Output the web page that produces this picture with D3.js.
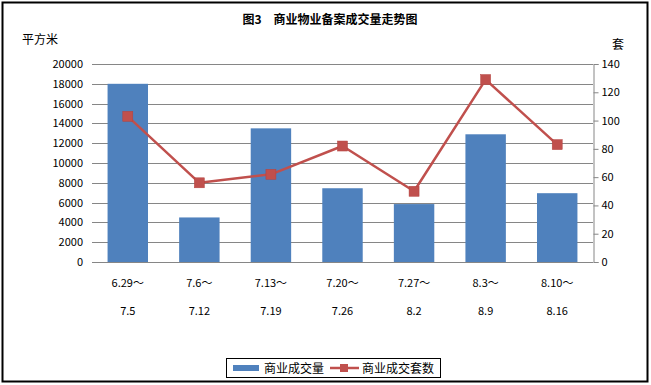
<!DOCTYPE html>
<html>
<head>
<meta charset="utf-8">
<script src="https://cdn.jsdelivr.net/npm/d3@7/dist/d3.min.js"></script>
<style>
  body { margin: 0; background: #fff; }
  svg text { font-family: "Noto Sans CJK SC", "DejaVu Sans", sans-serif; }
</style>
</head>
<body>
<svg id="chart" width="651" height="385"></svg>
<script>
// data
const periodsTop = ["6.29～", "7.6～", "7.13～", "7.20～", "7.27～", "8.3～", "8.10～"];
const periodsBottom = ["7.5", "7.12", "7.19", "7.26", "8.2", "8.9", "8.16"];
const areaValues = [18000, 4500, 13500, 7450, 5850, 12900, 6950];
const unitValues = [103, 56, 62, 82, 50, 129, 83];
const leftTicks = [0, 2000, 4000, 6000, 8000, 10000, 12000, 14000, 16000, 18000, 20000];
const rightTicks = [0, 20, 40, 60, 80, 100, 120, 140];

const BAR_COLOR = "#4F81BD";
const LINE_COLOR = "#C0504D";
const GRID_COLOR = "#868686";

const svg = d3.select("#chart");
const plot = { left: 92, right: 593, top: 64, bottom: 262 };

// outer frame
svg.append("rect")
  .attr("x", 2.5).attr("y", 2.5)
  .attr("width", 645).attr("height", 379)
  .attr("fill", "#fff")
  .attr("stroke", "#000")
  .attr("stroke-width", 2);

svg.append("text")
  .attr("x", 330).attr("y", 24)
  .attr("text-anchor", "middle")
  .attr("font-size", 12)
  .attr("font-weight", "bold")
  .text("图3　商业物业备案成交量走势图");

svg.append("text")
  .attr("x", 22).attr("y", 44)
  .attr("font-size", 12)
  .text("平方米");

svg.append("text")
  .attr("x", 612).attr("y", 49)
  .attr("font-size", 12)
  .text("套");

const x = d3.scaleBand()
  .domain(d3.range(periodsTop.length))
  .range([plot.left, plot.right])
  .paddingInner(0.435)
  .paddingOuter(0.2175);

const yLeft = d3.scaleLinear().domain([0, 20000]).range([plot.bottom, plot.top]);
const yRight = d3.scaleLinear().domain([0, 140]).range([plot.bottom, plot.top]);

// gridlines + left ticks
svg.append("g")
  .selectAll("line").data(leftTicks).enter().append("line")
  .attr("x1", plot.left).attr("x2", plot.right)
  .attr("y1", d => Math.round(yLeft(d)) + 0.5)
  .attr("y2", d => Math.round(yLeft(d)) + 0.5)
  .attr("stroke", GRID_COLOR)
  .attr("stroke-width", 1);

svg.append("g")
  .selectAll("text").data(leftTicks).enter().append("text")
  .attr("x", 83)
  .attr("y", d => yLeft(d) + 4)
  .attr("text-anchor", "end")
  .attr("font-size", 11)
  .text(d => d);

// bars
svg.append("g")
  .selectAll("rect").data(areaValues).enter().append("rect")
  .attr("x", (d, i) => x(i))
  .attr("y", d => yLeft(d))
  .attr("width", x.bandwidth())
  .attr("height", d => plot.bottom - yLeft(d))
  .attr("fill", BAR_COLOR);

// right axis
const rightAxis = svg.append("g")
  .attr("transform", `translate(${plot.right + 0.5},0)`)
  .call(d3.axisRight(yRight).tickValues(rightTicks).tickSize(5).tickPadding(3));
rightAxis.select(".domain").attr("stroke", GRID_COLOR);
rightAxis.selectAll(".tick line").attr("stroke", GRID_COLOR);
rightAxis.selectAll(".tick text")
  .attr("font-size", 11)
  .attr("fill", "#000")
  .attr("font-family", "\"Noto Sans CJK SC\", sans-serif");

// category labels
const cats = svg.append("g");
cats.selectAll("text.top").data(periodsTop).enter().append("text")
  .attr("class", "top")
  .attr("x", (d, i) => x(i) + x.bandwidth() / 2)
  .attr("y", 287)
  .attr("text-anchor", "middle")
  .attr("font-size", 11)
  .text(d => d);
cats.selectAll("text.bottom").data(periodsBottom).enter().append("text")
  .attr("class", "bottom")
  .attr("x", (d, i) => x(i) + x.bandwidth() / 2)
  .attr("y", 315)
  .attr("text-anchor", "middle")
  .attr("font-size", 11)
  .text(d => d);

// line series
const line = d3.line()
  .x((d, i) => x(i) + x.bandwidth() / 2)
  .y(d => yRight(d));

svg.append("path")
  .datum(unitValues)
  .attr("fill", "none")
  .attr("stroke", LINE_COLOR)
  .attr("stroke-width", 2.5)
  .attr("stroke-linejoin", "round")
  .attr("d", line);

svg.append("g")
  .selectAll("rect").data(unitValues).enter().append("rect")
  .attr("x", (d, i) => x(i) + x.bandwidth() / 2 - 5)
  .attr("y", d => yRight(d) - 5)
  .attr("width", 10).attr("height", 10)
  .attr("fill", LINE_COLOR)
  .attr("stroke", "#b4423f")
  .attr("stroke-width", 0.5);

// legend
const legend = svg.append("g");
legend.append("rect")
  .attr("x", 226.5).attr("y", 358.5)
  .attr("width", 214).attr("height", 19)
  .attr("fill", "#fff")
  .attr("stroke", "#000")
  .attr("stroke-width", 1);
legend.append("rect")
  .attr("x", 233).attr("y", 365)
  .attr("width", 26).attr("height", 6)
  .attr("fill", BAR_COLOR);
legend.append("text")
  .attr("x", 264).attr("y", 372.5)
  .attr("font-size", 12)
  .text("商业成交量");
legend.append("line")
  .attr("x1", 330).attr("x2", 359)
  .attr("y1", 368).attr("y2", 368)
  .attr("stroke", LINE_COLOR)
  .attr("stroke-width", 2.5);
legend.append("rect")
  .attr("x", 340).attr("y", 364)
  .attr("width", 8).attr("height", 8)
  .attr("fill", LINE_COLOR);
legend.append("text")
  .attr("x", 362).attr("y", 372.5)
  .attr("font-size", 12)
  .text("商业成交套数");
</script>
</body>
</html>
